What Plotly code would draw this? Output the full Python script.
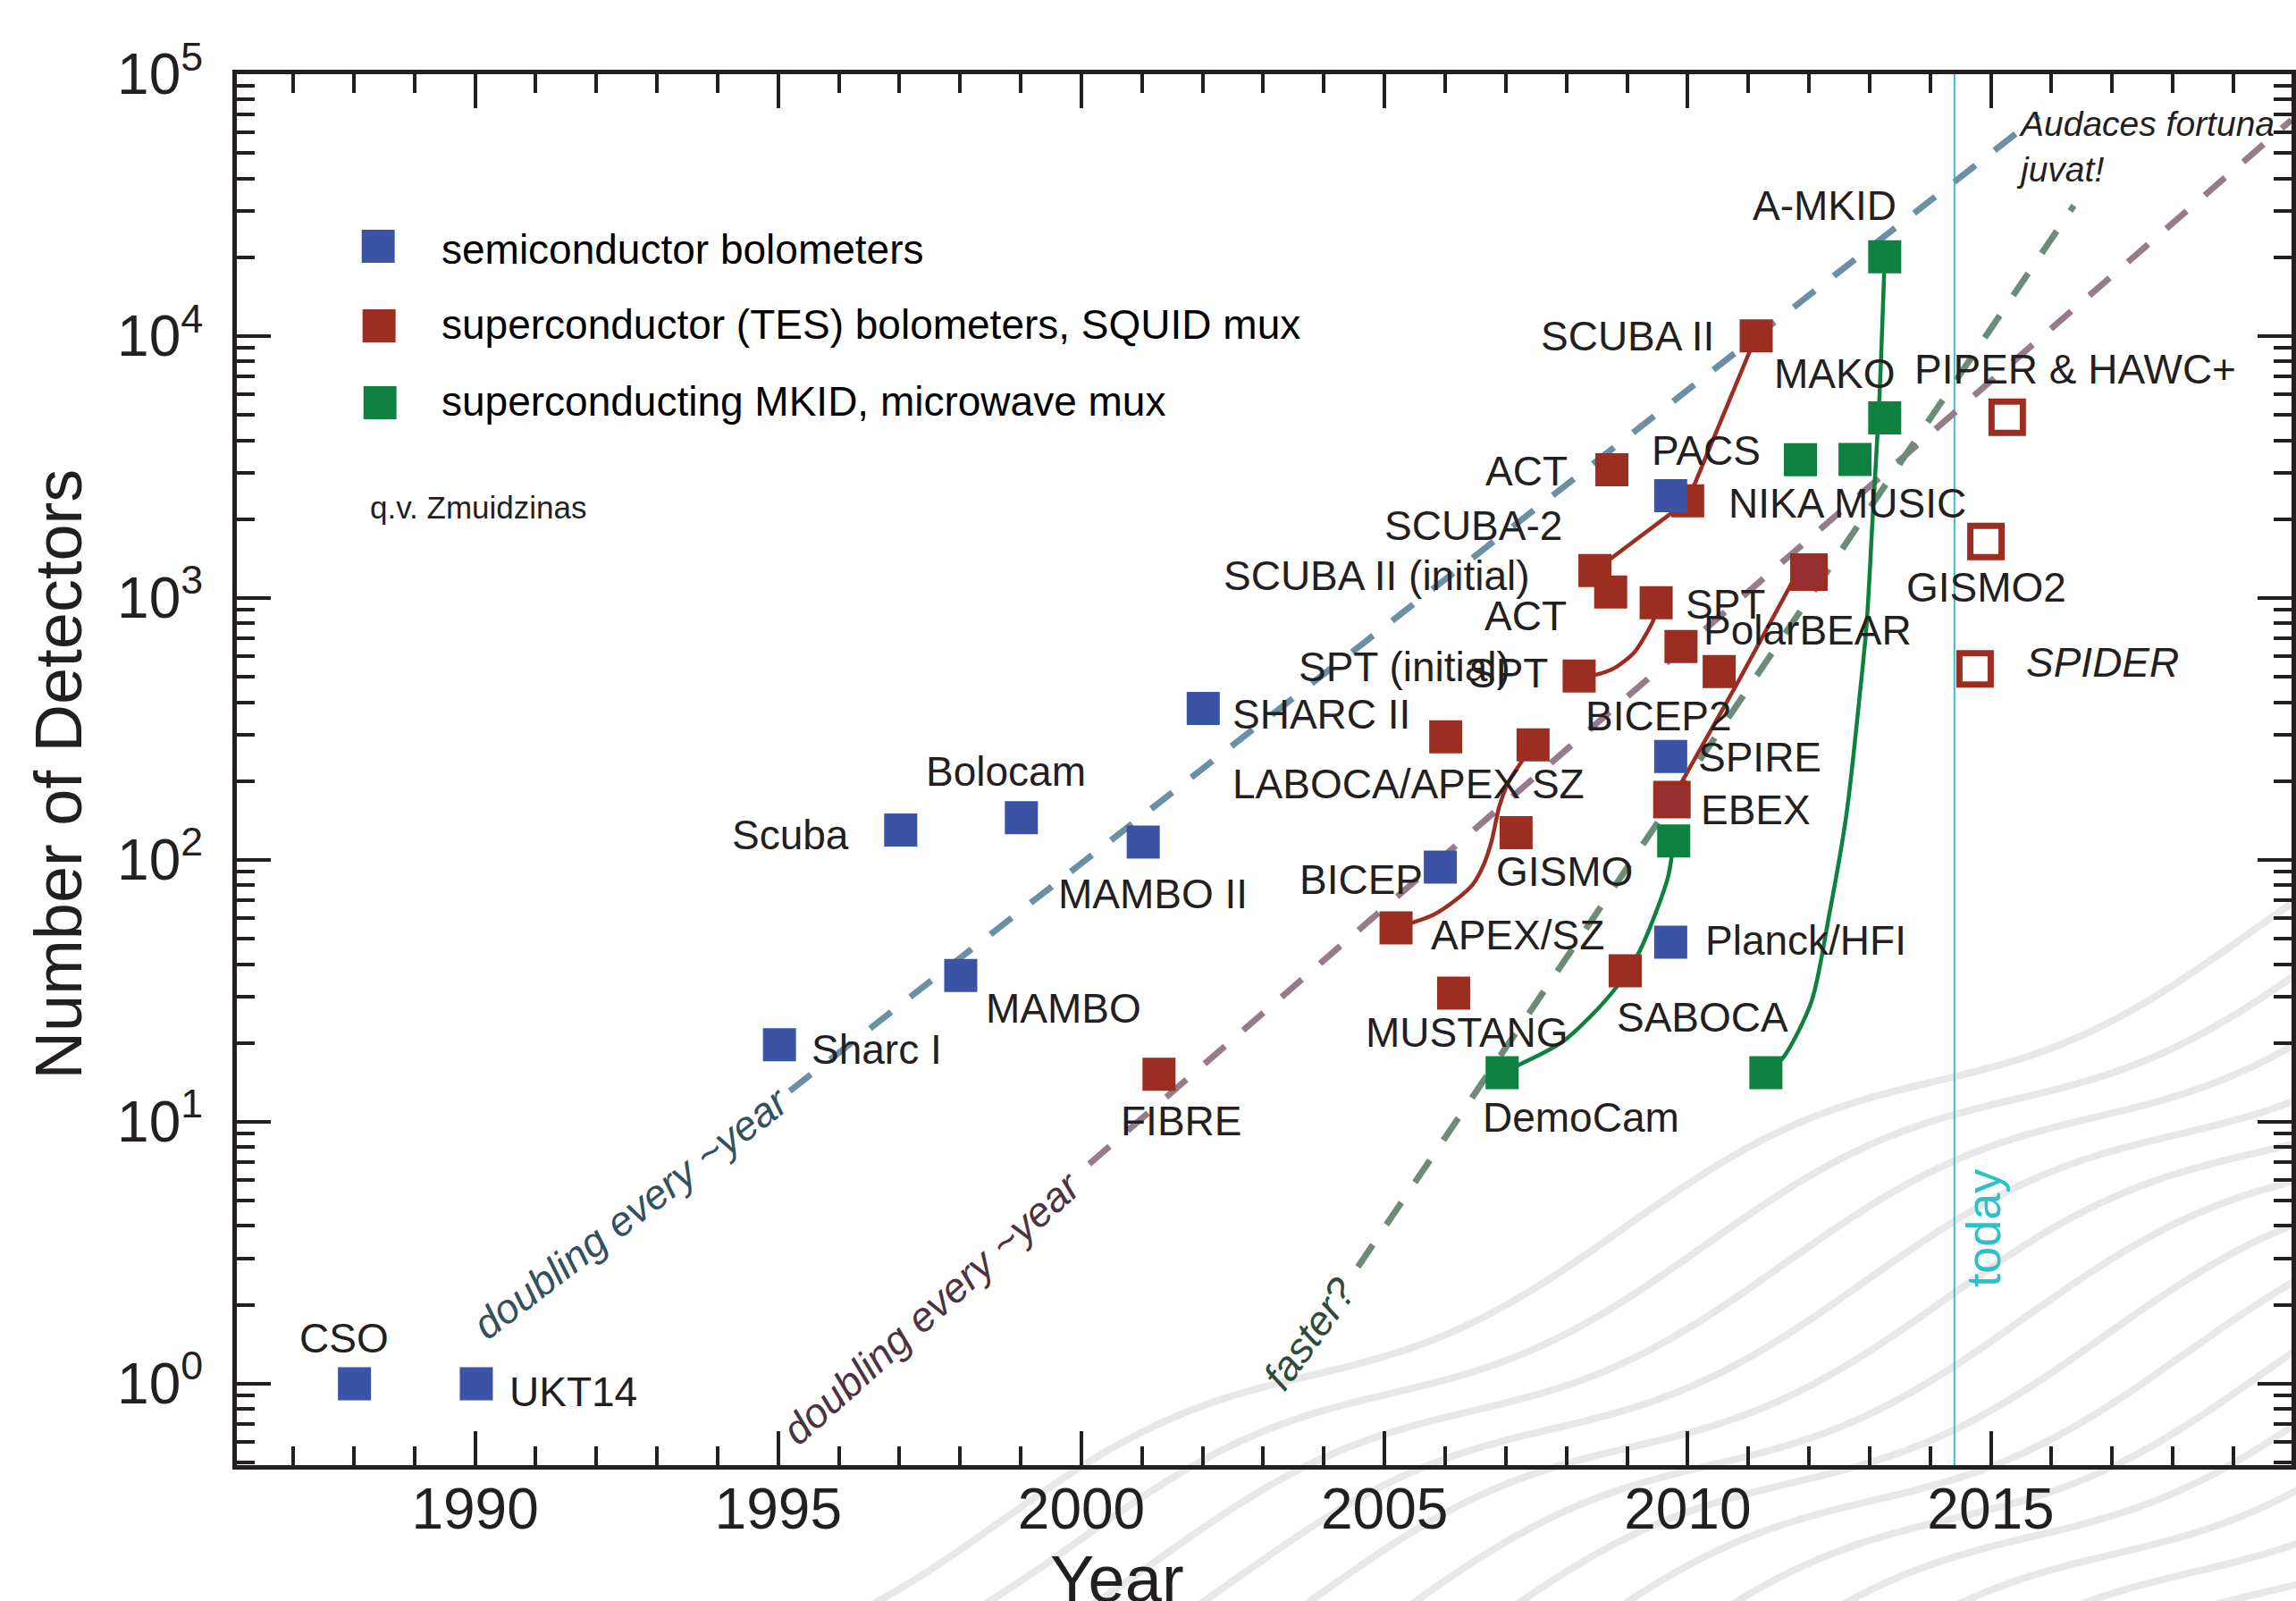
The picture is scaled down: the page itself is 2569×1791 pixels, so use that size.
import math
import plotly.graph_objects as go

# ---------------- data ----------------
# semiconductor bolometers
semi_names = ["CSO", "UKT14", "Sharc I", "Scuba", "MAMBO", "Bolocam", "MAMBO II",
              "SHARC II", "BICEP", "PACS", "SPIRE", "Planck/HFI"]
semi_years = [1988.01, 1990.02, 1995.02, 1997.02, 1998.01, 1999.01, 2001.02,
              2002.01, 2005.92, 2009.72, 2009.72, 2009.72]
semi_counts = [1, 1, 19.7, 130, 36.2, 145, 117, 379, 93.8, 2460, 248, 48.5]

# superconducting TES bolometers, SQUID mux
tes_names = ["FIBRE", "APEX/SZ", "LABOCA", "MUSTANG", "GISMO", "APEX SZ", "SPT (initial)",
             "SCUBA II (initial)", "ACT", "ACT (2)", "SABOCA", "SPT", "BICEP2", "Keck",
             "SCUBA-2", "SCUBA II", "EBEX", "PolarBEAR"]
tes_years = [2001.28, 2005.19, 2006.01, 2006.14, 2007.17, 2007.45, 2008.21,
             2008.47, 2008.75, 2008.73, 2008.97, 2009.48, 2009.89, 2010.52,
             2010.00, 2011.13, 2009.74, 2012.00]
tes_counts = [15.2, 55, 295, 31, 127, 275, 504,
              1273, 3090, 1054, 37.7, 959, 653, 524,
              2350, 10020, 170, 1256]

# planned instruments (open squares)
future_names = ["PIPER & HAWC+", "GISMO2", "SPIDER"]
future_years = [2015.27, 2014.92, 2014.74]
future_counts = [4900, 1643, 536]

# superconducting MKID, microwave mux
mkid_names = ["DemoCam", "DemoCam (upgrade)", "MKID 2011", "NIKA", "MUSIC", "MAKO", "A-MKID"]
mkid_years = [2006.94, 2009.77, 2011.29, 2011.86, 2012.76, 2013.25, 2013.25]
mkid_counts = [15.4, 118, 15.4, 3373, 3380, 4875, 20100]

# connecting curves
apex_curve_years = [2005.19, 2005.81, 2006.15, 2006.45, 2006.64, 2006.77, 2006.89, 2007.03, 2007.45]
apex_curve_counts = [55, 61.8, 69.6, 80.3, 96.4, 119, 159, 195, 275]
spt_curve_years = [2008.21, 2008.48, 2008.81, 2009.12, 2009.31, 2009.44, 2009.48]
spt_curve_counts = [504, 509, 543, 620, 725, 830, 959]
scuba_curve_years = [2008.47, 2010.00, 2011.13]
scuba_curve_counts = [1273, 2350, 10020]
ebex_curve_years = [2009.74, 2010.80, 2011.75]
ebex_curve_counts = [170, 464, 1178]
democam_curve_years = [2006.94, 2007.91, 2008.40, 2008.84, 2009.19, 2009.48, 2009.68, 2009.77]
democam_curve_counts = [15.4, 20.0, 25.3, 33.0, 44.0, 63.4, 86.8, 118]
mkid_curve_years = [2011.29, 2011.57, 2012.04, 2012.33, 2012.62, 2012.84, 2012.95, 2013.05, 2013.16, 2013.25]
mkid_curve_counts = [15.4, 17.5, 28.7, 60.9, 150, 430, 784, 2005, 5650, 20100]

# trend lines
trend_semi_years = [1995.19, 2015.79]
trend_semi_counts = [13.1, 69300]
trend_tes_years = [2000.13, 2019.96]
trend_tes_counts = [6.90, 66900]
trend_mkid_years = [2004.56, 2016.37]
trend_mkid_counts = [2.79, 31500]

today_year = 2014.40

# ---------------- layout constants ----------------
W, H = 2569, 1791
M_L, M_R, M_T, M_B = 265, 0, 83, 152
PLOT_W = W - M_L - M_R
PLOT_H = H - M_T - M_B
X_RANGE = [1986.07, 2019.96]
Y_RANGE = [-0.311, 5.0]

INK = "#231f20"
BLUE = "#3a53a4"
RED = "#9c2e21"
GREEN = "#0e8040"
SANS = "Liberation Sans, Arial, Helvetica, sans-serif"


def year_at(px):
    return X_RANGE[0] + (px - M_L) / PLOT_W * (X_RANGE[1] - X_RANGE[0])


def logn_at(py):
    return Y_RANGE[0] + (H - M_B - py) / PLOT_H * (Y_RANGE[1] - Y_RANGE[0])


def xp(px):
    return (px - M_L) / PLOT_W


def yp(py):
    return (H - M_B - py) / PLOT_H


fig = go.Figure()

# dashed trend lines
for yrs, cnts, col in [(trend_semi_years, trend_semi_counts, "#6b8fa3"),
                       (trend_tes_years, trend_tes_counts, "#957b8c"),
                       (trend_mkid_years, trend_mkid_counts, "#6c8b78")]:
    fig.add_trace(go.Scatter(x=yrs, y=cnts, mode="lines",
                             line=dict(color=col, width=7, dash="30px,27px"),
                             hoverinfo="skip", showlegend=False))

# connecting curves
for yrs, cnts, col, shp in [(apex_curve_years, apex_curve_counts, RED, "spline"),
                            (spt_curve_years, spt_curve_counts, RED, "spline"),
                            (scuba_curve_years, scuba_curve_counts, RED, "linear"),
                            (ebex_curve_years, ebex_curve_counts, RED, "linear"),
                            (democam_curve_years, democam_curve_counts, GREEN, "spline"),
                            (mkid_curve_years, mkid_curve_counts, GREEN, "spline")]:
    fig.add_trace(go.Scatter(x=yrs, y=cnts, mode="lines",
                             line=dict(color=col, width=4.5, shape=shp, smoothing=0.8),
                             hoverinfo="skip", showlegend=False))

# markers
special = {"EBEX", "PolarBEAR"}
fig.add_trace(go.Scatter(
    x=tes_years, y=tes_counts, mode="markers", text=tes_names, name="TES",
    marker=dict(symbol="square", size=37, opacity=1,
                color=["#973035" if n in special else RED for n in tes_names],
                line=dict(color=RED, width=[5 if n in special else 0 for n in tes_names])),
    showlegend=False))
fig.add_trace(go.Scatter(
    x=future_years, y=future_counts, mode="markers", text=future_names, name="planned",
    marker=dict(symbol="square-open", size=35, opacity=1, color=RED, line=dict(color=RED, width=7)),
    showlegend=False))
fig.add_trace(go.Scatter(
    x=semi_years, y=semi_counts, mode="markers", text=semi_names, name="semiconductor",
    marker=dict(symbol="square", size=37, opacity=1, color=BLUE, line=dict(width=0)),
    showlegend=False))
fig.add_trace(go.Scatter(
    x=mkid_years, y=mkid_counts, mode="markers", text=mkid_names, name="MKID",
    marker=dict(symbol="square", size=37, opacity=1, color=GREEN, line=dict(width=0)),
    showlegend=False))

# ---------------- decorations ----------------
shapes = []
# wavy background lines
for k in range(0, 15):
    dx, dy = 90 * k, 20 * k
    pts = []
    x = 700
    while x <= 2800:
        y = 2229.4 - 0.47 * x - 26 * math.sin(2 * math.pi * (x - 1820) / 700)
        pts.append((x + dx, y + dy))
        x += 8
    path = "M " + " L ".join(f"{xp(a):.5f},{yp(b):.5f}" for a, b in pts)
    shapes.append(dict(type="path", path=path, xref="paper", yref="paper",
                       line=dict(color="#e8e8ea", width=8), layer="below"))

# today line
shapes.append(dict(type="line", x0=today_year, x1=today_year, xref="x",
                   y0=0, y1=1, yref="paper", line=dict(color="#3dbfc8", width=2),
                   layer="below"))

# legend swatches
for (x0, y0, col) in [(405, 257, BLUE), (406, 346, RED), (407, 432, GREEN)]:
    shapes.append(dict(type="rect", xref="paper", yref="paper",
                       x0=xp(x0), x1=xp(x0 + 37), y0=yp(y0), y1=yp(y0 + 37),
                       fillcolor=col, line=dict(width=0)))

annotations = []


def label(text, cx, cy, size=46, color=INK, angle=0, xanchor="center", align="center"):
    annotations.append(dict(text=text, x=year_at(cx), y=logn_at(cy), xref="x", yref="y",
                            showarrow=False, xanchor=xanchor, yanchor="middle", align=align,
                            textangle=angle, font=dict(family=SANS, size=size, color=color)))


LABELS = [
    ("CSO", 385, 1497), ("UKT14", 642, 1557), ("Sharc I", 983, 1174), ("Scuba", 886, 933.5),
    ("Bolocam", 1127.5, 862.5), ("MAMBO", 1192, 1127.5), ("MAMBO II", 1292.5, 999.5),
    ("SHARC II", 1481.5, 798.5), ("FIBRE", 1323.5, 1254), ("LABOCA/APEX SZ", 1578.5, 877),
    ("BICEP", 1526, 984), ("GISMO", 1754, 975), ("APEX/SZ", 1701, 1046),
    ("MUSTANG", 1644.5, 1155), ("SABOCA", 1909, 1137.5), ("DemoCam", 1772, 1250),
    ("Planck/HFI", 2024.5, 1051.5), ("EBEX", 1968.5, 905.5), ("SPIRE", 1973, 847),
    ("BICEP2", 1859, 801), ("PolarBEAR", 2026, 705), ("SPT", 1934, 675.5),
    ("ACT", 1710, 689), ("SCUBA II (initial)", 1543, 644), ("SCUBA-2", 1652, 587.5),
    ("ACT", 1711, 527), ("SPT (initial)", 1574, 746), ("SPT", 1691, 752.5),
    ("SCUBA II", 1824, 376), ("A-MKID", 2045, 230), ("MAKO", 2056, 417.5),
    ("PIPER &amp; HAWC+", 2326, 413), ("PACS", 1912.5, 504), ("NIKA", 1992, 562.5),
    ("MUSIC", 2130.5, 563), ("GISMO2", 2227, 657),
]
for t, cx, cy in LABELS:
    label(t, cx, cy)

label("<i>SPIDER</i>", 2357.5, 741)
label("<i>Audaces fortuna<br>juvat!</i>", 2258, 164, size=39, xanchor="left", align="left")
label("<i>doubling every ~year</i>", 706.5, 1357, size=46, color="#33505f", angle=-37.5)
label("<i>doubling every ~year</i>", 1044, 1462.5, size=46, color="#4b3342", angle=-42)
label("<i>faster?</i>", 1468, 1492, size=46, color="#2e4a3b", angle=-54)
label("today", 2222.5, 1373.5, size=54, color="#30bfc8", angle=-90)

# legend texts
for txt, cy in [("semiconductor bolometers", 279),
                ("superconductor (TES) bolometers, SQUID mux", 363),
                ("superconducting MKID, microwave mux", 449)]:
    annotations.append(dict(text=txt, x=xp(492), y=yp(cy), xref="paper", yref="paper",
                            showarrow=False, xanchor="left", yanchor="middle",
                            font=dict(family=SANS, size=46, color="#000000")))
annotations.append(dict(text="q.v. Zmuidzinas", x=xp(412), y=yp(567), xref="paper", yref="paper",
                        showarrow=False, xanchor="left", yanchor="middle",
                        font=dict(family=SANS, size=35, color=INK)))

# axis titles
annotations.append(dict(text="Number of Detectors", x=xp(65), y=yp(866), xref="paper", yref="paper",
                        showarrow=False, xanchor="center", yanchor="middle", textangle=-90,
                        font=dict(family=SANS, size=74, color=INK)))
annotations.append(dict(text="Year", x=xp(1252), y=yp(1766), xref="paper", yref="paper",
                        showarrow=False, xanchor="center", yanchor="middle",
                        font=dict(family=SANS, size=74, color=INK)))

y_major = [1, 10, 100, 1000, 10000, 100000]
y_text = [f"10<sup>{i}</sup>" for i in range(6)]
y_minor = [m * 10 ** k for k in range(-1, 5) for m in range(2, 10)]

fig.update_layout(
    width=W, height=H,
    margin=dict(l=M_L, r=M_R, t=M_T, b=M_B, pad=0),
    paper_bgcolor="white", plot_bgcolor="rgba(0,0,0,0)",
    showlegend=False,
    shapes=shapes, annotations=annotations,
    xaxis=dict(range=X_RANGE, tickmode="array", tickvals=[1990, 1995, 2000, 2005, 2010, 2015],
               ticks="inside", ticklen=38, tickwidth=4, tickcolor=INK,
               showline=True, linewidth=5, linecolor=INK, mirror="ticks",
               showgrid=False, zeroline=False, ticklabelstandoff=-11,
               tickfont=dict(family=SANS, size=64, color=INK),
               minor=dict(ticks="inside", ticklen=21, tickwidth=4, tickcolor=INK,
                          tick0=1990, dtick=1, showgrid=False)),
    yaxis=dict(type="log", range=Y_RANGE, tickmode="array", tickvals=y_major, ticktext=y_text,
               ticks="inside", ticklen=38, tickwidth=4, tickcolor=INK,
               showline=True, linewidth=5, linecolor=INK, mirror="ticks",
               showgrid=False, zeroline=False, ticklabelstandoff=20,
               tickfont=dict(family=SANS, size=64, color=INK),
               minor=dict(ticks="inside", ticklen=20, tickwidth=4, tickcolor=INK,
                          tickmode="array", tickvals=y_minor, showgrid=False)),
)

fig.write_html("out.html")
